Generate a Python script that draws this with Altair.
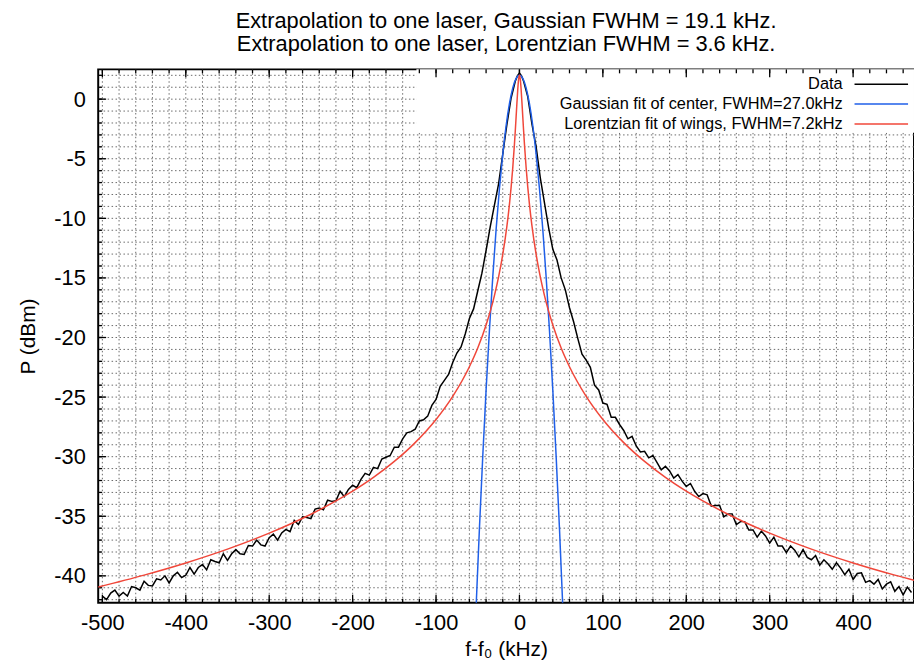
import altair as alt
import pandas as pd

# ---------------- data ----------------
title_lines = ["Extrapolation to one laser, Gaussian FWHM = 19.1 kHz.",
               "Extrapolation to one laser, Lorentzian FWHM = 3.6 kHz."]
x_title = "f-f\u2080 (kHz)"
y_title = "P (dBm)"

series_names = ["Data", "Gaussian fit of center, FWHM=27.0kHz", "Lorentzian fit of wings, FWHM=7.2kHz"]
series_colors = ["#000000", "#1f5fe8", "#f0473a"]

freq_khz = list(range(-500, 0, 5)) + [-2.5, 0, 2.5] + list(range(5, 475, 5))
power_dbm = [
    -41.7, -42.0, -41.45, -41.2, -41.7, -41.4, -41.7, -40.9, -41.0, -41.2,
    -40.45, -40.8, -40.85, -40.25, -40.35, -40.0, -40.6, -40.0, -39.7, -40.15,
    -39.95, -39.3, -39.85, -39.3, -39.05, -39.5, -38.65, -38.8, -38.9, -38.15,
    -38.7, -38.15, -37.8, -38.15, -38.2, -37.45, -37.5, -37.0, -37.4, -37.5,
    -36.8, -36.5, -37.0, -36.4, -36.1, -36.3, -35.35, -35.7, -35.05, -35.1,
    -35.2, -34.4, -34.3, -34.45, -33.65, -33.75, -33.7, -32.9, -33.35, -32.75,
    -32.4, -32.6, -31.9, -31.4, -31.55, -30.9, -31.0, -30.2, -30.05, -29.9,
    -29.2, -29.2, -28.5, -28.0, -27.9, -27.7, -27.0, -26.9, -26.6, -25.7,
    -25.2, -24.1, -23.6, -23.1, -22.1, -21.3, -20.8, -19.7, -18.4, -17.6,
    -16.1, -14.6, -12.7, -10.7, -8.9, -7.1, -4.6, -2.1, 0.1, 1.5,
    1.95, 2.2, 1.95,
    1.5, 0.2, -2.1, -4.0, -6.6, -8.7, -10.8, -12.6, -13.5, -15.0,
    -16.0, -17.5, -18.7, -20.1, -21.4, -21.9, -22.5, -24.0, -24.4, -25.5,
    -25.6, -26.7, -26.7, -27.3, -27.8, -28.5, -28.3, -29.1, -29.6, -29.55,
    -30.1, -29.9, -30.5, -31.1, -30.8, -31.2, -31.8, -31.5, -32.05, -32.5,
    -32.25, -32.9, -33.35, -33.1, -33.2, -34.15, -34.1, -34.1, -35.05, -34.8,
    -34.8, -35.7, -35.45, -35.45, -36.15, -36.15, -36.75, -36.25, -36.65, -37.25,
    -36.75, -37.5, -37.5, -38.05, -37.5, -37.85, -38.4, -37.8, -38.45, -38.65,
    -38.3, -39.1, -38.65, -39.0, -39.45, -38.9, -39.35, -39.9, -39.45, -40.3,
    -39.8, -39.75, -40.55, -40.4, -40.7, -40.3, -41.1, -40.7, -40.5, -41.3,
    -40.9, -41.6, -40.95, -41.4,
]

gauss_f = [-52, -48, -44, -40, -36, -32, -28, -24, -20, -16, -12, -8, -4, 0,
           4, 8, 12, 16, 20, 24, 28, 32, 36, 40, 44, 48, 52]
gauss_p = [-42.67, -36.06, -29.98, -24.43, -19.41, -14.92, -10.95, -7.52, -4.61, -2.23, -0.38, 0.94, 1.74, 2.0,
           1.74, 0.94, -0.38, -2.23, -4.61, -7.52, -10.95, -14.92, -19.41, -24.43, -29.98, -36.06, -42.67]

lor_f = [-505, -450, -400, -350, -300, -250, -200, -175, -150, -125, -100, -80, -60, -50, -40, -30, -25, -20,
         -15, -12, -10, -8, -6, -5, -4, -3, -2, -1, 0, 1, 2, 3, 4, 5, 6, 8, 10, 12, 15, 20, 25, 30, 40, 50, 60,
         80, 100, 125, 150, 175, 200, 250, 300, 350, 400, 450, 500]
lor_p = [-40.94, -39.94, -38.92, -37.76, -36.42, -34.83, -32.90, -31.74, -30.40, -28.82, -26.88, -24.94, -22.45,
         -20.88, -18.95, -16.48, -14.92, -13.03, -10.64, -8.83, -7.40, -5.74, -3.77, -2.67, -1.49, -0.29, 0.83,
         1.68, 2.0, 1.68, 0.83, -0.29, -1.49, -2.67, -3.77, -5.74, -7.40, -8.83, -10.64, -13.03, -14.92, -16.48,
         -18.95, -20.88, -22.45, -24.94, -26.88, -28.82, -30.40, -31.74, -32.90, -34.83, -36.42, -37.76, -38.92,
         -39.94, -40.85]

x_major = [-500, -400, -300, -200, -100, 0, 100, 200, 300, 400]
x_minor = list(range(-500, 480, 20))
y_major = [0, -5, -10, -15, -20, -25, -30, -35, -40]
y_minor = list(range(-42, 3, 1))

x_domain = [-505, 473]
y_domain = [-42.25, 2.5]

# ---------------- chart ----------------
FONT = "Liberation Sans"
W, H = 823, 538

xs = alt.Scale(domain=x_domain, nice=False, zero=False)
ys = alt.Scale(domain=y_domain, nice=False, zero=False)

x_axis = alt.Axis(values=x_major, title=x_title, grid=False, ticks=False, domain=False,
                  labelExpr="'' + datum.value",
                  labelFontSize=22, labelPadding=10, labelFont=FONT, titleFont=FONT, titleFontSize=21,
                  titleFontWeight="normal", titlePadding=5, titleColor="black", labelColor="black")
y_axis = alt.Axis(values=y_major, title=y_title, grid=False, ticks=False, domain=False,
                  labelExpr="'' + datum.value",
                  labelFontSize=22, labelPadding=13, labelFont=FONT, titleFont=FONT, titleFontSize=21,
                  titleFontWeight="normal", titlePadding=15, titleColor="black", labelColor="black")


def X(field):
    return alt.X(field, type="quantitative", scale=xs, axis=x_axis)


def Y(field):
    return alt.Y(field, type="quantitative", scale=ys, axis=y_axis)


df_data = pd.DataFrame({"f": freq_khz, "p": power_dbm})
df_g = pd.DataFrame({"f": gauss_f, "p": gauss_p})
df_l = pd.DataFrame({"f": lor_f, "p": lor_p})

grid_style = dict(strokeDash=[1.5, 2.5], color="#5a5a5a", strokeWidth=0.9)
grid_x = alt.Chart(pd.DataFrame({"v": x_minor})).mark_rule(**grid_style).encode(x=X("v"))
grid_y = alt.Chart(pd.DataFrame({"v": y_minor})).mark_rule(**grid_style).encode(y=Y("v"))

# opaque key box hides the grid behind the legend
key_box = alt.Chart(pd.DataFrame({"a": [0]})).mark_rect(color="white").encode(
    x=alt.value(321), x2=alt.value(W), y=alt.value(0), y2=alt.value(64))

tick_layers = []
for vals, ln in ((x_major, 8), (x_minor, 4)):
    d = pd.DataFrame({"v": vals})
    tick_layers.append(alt.Chart(d).mark_rule(color="black", strokeWidth=1.3).encode(
        x=X("v"), y=alt.value(H), y2=alt.value(H - ln)))
    tick_layers.append(alt.Chart(d).mark_rule(color="black", strokeWidth=1.3).encode(
        x=X("v"), y=alt.value(0), y2=alt.value(ln)))
for vals, ln in ((y_major, 8), (y_minor, 4)):
    d = pd.DataFrame({"v": vals})
    tick_layers.append(alt.Chart(d).mark_rule(color="black", strokeWidth=1.3).encode(
        y=Y("v"), x=alt.value(0), x2=alt.value(ln)))

data_line = alt.Chart(df_data).mark_line(color=series_colors[0], strokeWidth=1.5, clip=True).encode(
    x=X("f"), y=Y("p"))
gauss_line = alt.Chart(df_g).mark_line(color=series_colors[1], strokeWidth=1.5, clip=True,
                                        interpolate="monotone").encode(x=X("f"), y=Y("p"))
lor_line = alt.Chart(df_l).mark_line(color=series_colors[2], strokeWidth=1.5, clip=True,
                                      interpolate="monotone").encode(x=X("f"), y=Y("p"))

legend_layers = []
for i, (name, col) in enumerate(zip(series_names, series_colors)):
    yy = 15 + 20 * i
    d = pd.DataFrame({"t": [name]})
    legend_layers.append(alt.Chart(d).mark_text(align="right", baseline="middle", fontSize=16.5,
                                                  font=FONT, color="black").encode(
        x=alt.value(751), y=alt.value(yy), text="t:N"))
    legend_layers.append(alt.Chart(d).mark_rule(color=col, strokeWidth=1.5).encode(
        x=alt.value(763), x2=alt.value(817), y=alt.value(yy)))

chart = alt.layer(
    grid_x, grid_y, key_box, *tick_layers, data_line, gauss_line, lor_line, *legend_layers
).properties(
    width=W, height=H,
    title=alt.Title(text=title_lines, fontSize=22, font=FONT, fontWeight="normal", anchor="middle",
                    offset=13, lineHeight=23, color="black"),
    autosize=alt.AutoSizeParams(type="none"),
    padding={"left": 91, "top": 59, "right": 0, "bottom": 62},
).configure(
    background="white",
    view=alt.ViewConfig(stroke="black", strokeWidth=2),
)

chart.save("out.html", embed_options={"renderer": "svg", "actions": False})
